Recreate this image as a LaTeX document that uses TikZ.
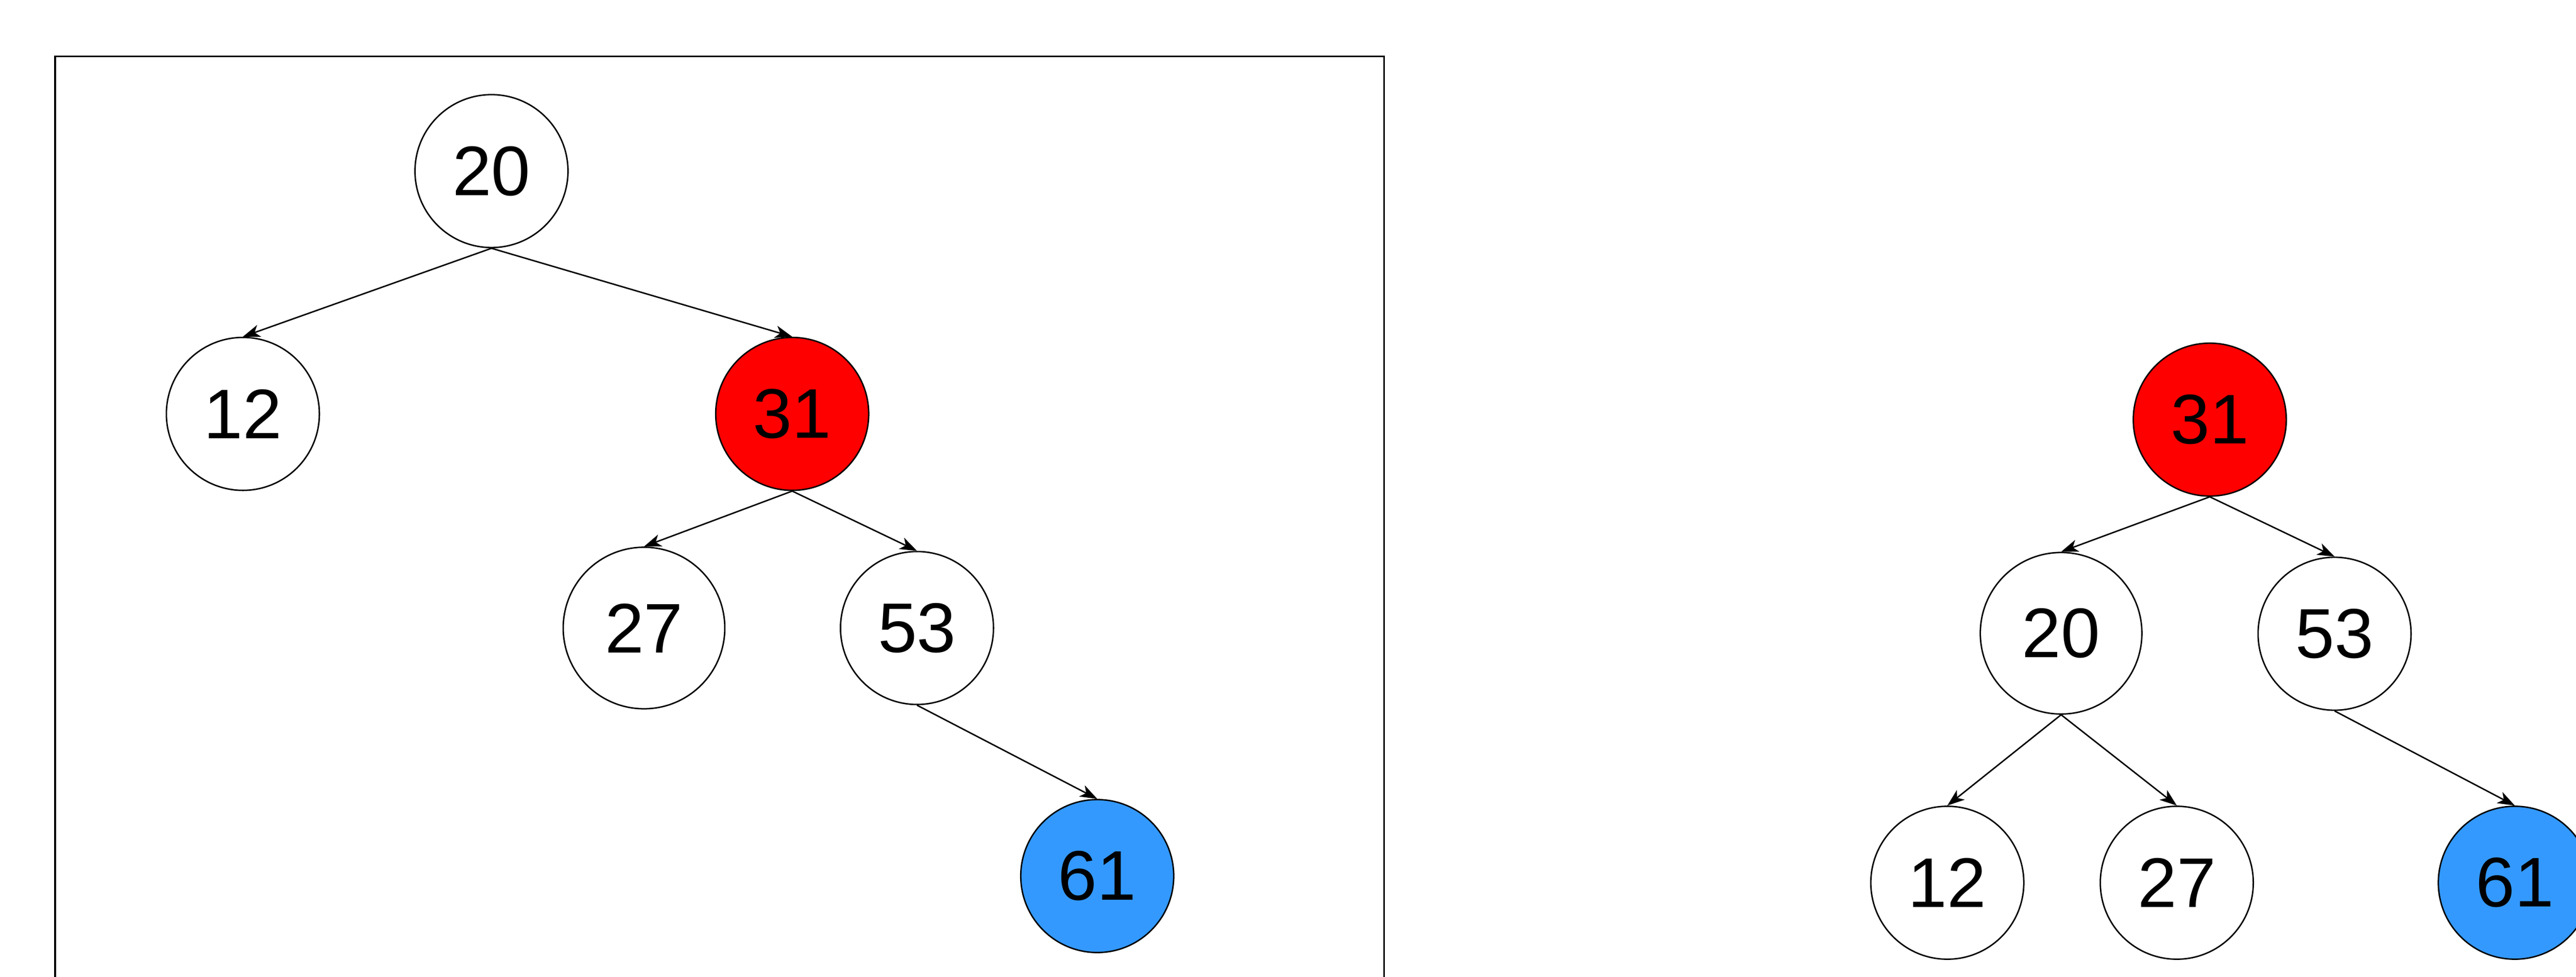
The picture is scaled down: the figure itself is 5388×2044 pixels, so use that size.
\documentclass[tikz,border=0pt]{standalone}
\usepackage{fontspec}
\setmainfont{Liberation Sans}
\usetikzlibrary{arrows.meta}
\definecolor{nodered}{HTML}{FF0000}
\definecolor{nodeblue}{HTML}{3399FF}
\begin{document}
\begin{tikzpicture}[x=0.25pt,y=-0.25pt,
  treenode/.style={circle,draw=black,line width=0.75pt,fill=white,minimum size=80pt,inner sep=0pt,
    font=\fontsize{36.75pt}{44pt}\selectfont},
  bignode/.style={treenode,minimum size=84.5pt},
  rednode/.style={treenode,fill=nodered},
  bluenode/.style={treenode,fill=nodeblue},
  link/.style={line width=0.75pt,-{Stealth[length=9pt,width=6.5pt,inset=2.5pt]}},
  frame/.style={line width=1pt}]
\clip (0,0) rectangle (5388,2044);
\fill[white] (0,0) rectangle (5388,2044);
% left frame
\draw[frame] (115,2060) -- (115,118) -- (2895,118) -- (2895,2060);
% left tree
\node[treenode] (a20) at (1028,358) {20};
\node[treenode] (a12) at (508,866) {12};
\node[rednode] (a31) at (1657,866) {31};
\node[bignode] (a27) at (1347,1314) {27};
\node[treenode] (a53) at (1918,1314) {53};
\node[bluenode] (a61) at (2295,1833) {61};
\draw[link] (a20.south) -- (a12.north);
\draw[link] (a20.south) -- (a31.north);
\draw[link] (a31.south) -- (a27.north);
\draw[link] (a31.south) -- (a53.north);
\draw[link] (a53.south) -- (a61.north);
% right tree
\node[rednode] (b31) at (4622,878) {31};
\node[bignode] (b20) at (4311,1325) {20};
\node[treenode] (b53) at (4883,1326) {53};
\node[treenode] (b12) at (4073,1847) {12};
\node[treenode] (b27) at (4553,1847) {27};
\node[bluenode] (b61) at (5260,1847) {61};
\draw[link] (b31.south) -- (b20.north);
\draw[link] (b31.south) -- (b53.north);
\draw[link] (b20.south) -- (b12.north);
\draw[link] (b20.south) -- (b27.north);
\draw[link] (b53.south) -- (b61.north);
\end{tikzpicture}
\end{document}
